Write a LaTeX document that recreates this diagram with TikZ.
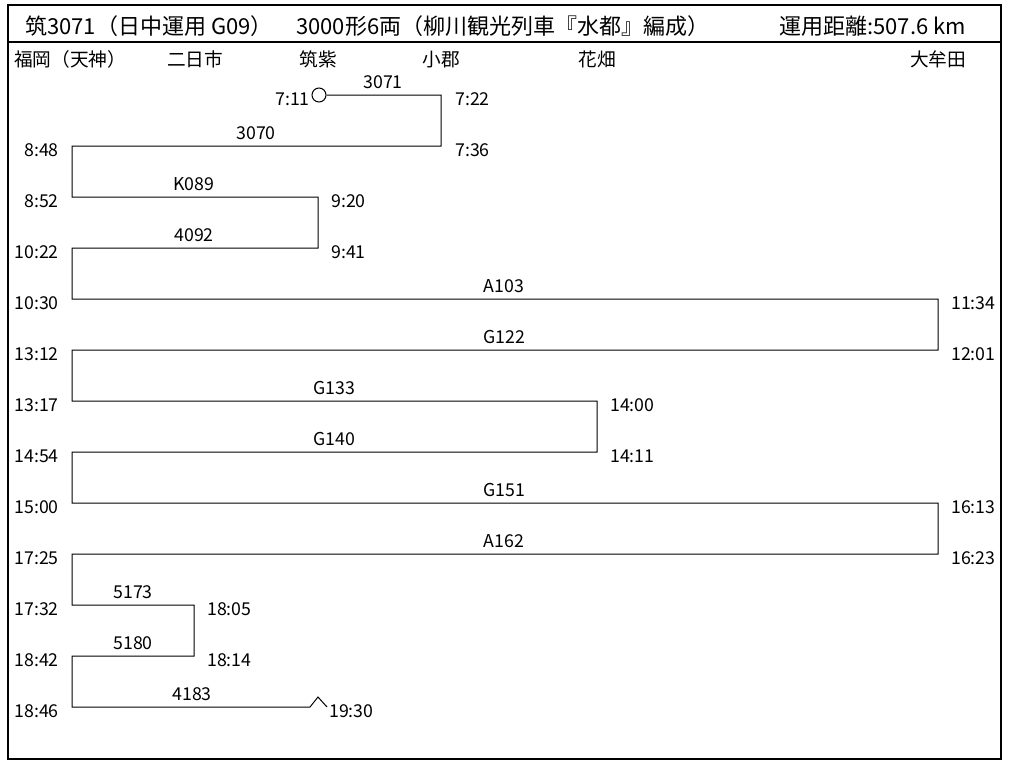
\documentclass[tikz,border=0pt]{standalone}
\usepackage{fontspec}
\setmainfont{Noto Sans CJK JP}
\begin{document}
\begin{tikzpicture}[x=0.75pt,y=-0.75pt,
  route/.style={line width=0.75pt},
  frame/.style={line width=1.1pt},
  hdr/.style={font=\fontsize{16.5}{19}\selectfont, anchor=base west, inner sep=0},
  stn/.style={font=\fontsize{14}{16}\selectfont, anchor=base, inner sep=0},
  tl/.style={font=\fontsize{13.3}{15}\selectfont, anchor=base east, inner sep=0},
  tr/.style={font=\fontsize{13.3}{15}\selectfont, anchor=base west, inner sep=0},
  seg/.style={font=\fontsize{13.3}{15}\selectfont, anchor=base, inner sep=0}]
\useasboundingbox (0,0) rectangle (1011,771);
% frame
\draw[frame] (8,5) rectangle (1001,759);
\draw[line width=0.8pt] (8,42) -- (1001,42);
% header
\node[hdr] (h1) at (25,34) {筑3071（日中運用 G09）};
\node[hdr] (h2) at (296,34) {3000形6両（柳川観光列車『水都』編成）};
\node[hdr] (h3) at (779,34) {運用距離:507.6 km};
% stations
\node[stn] (s1) at (70,66) {福岡（天神）};
\node[stn] (s2) at (195,66) {二日市};
\node[stn] (s3) at (318,66) {筑紫};
\node[stn] (s4) at (441,66) {小郡};
\node[stn] (s5) at (597,66) {花畑};
\node[stn] (s6) at (938,66) {大牟田};
% route corners
\node[draw, circle, line width=0.75pt, minimum size=10.5pt, inner sep=0] (start) at (319,95) {};
\coordinate (c1) at (441,95);
\coordinate (c2) at (441,146);
\coordinate (c3) at (72,146);
\coordinate (c4) at (72,197);
\coordinate (c5) at (318,197);
\coordinate (c6) at (318,248);
\coordinate (c7) at (72,248);
\coordinate (c8) at (72,299);
\coordinate (c9) at (938,299);
\coordinate (c10) at (938,350);
\coordinate (c11) at (72,350);
\coordinate (c12) at (72,401);
\coordinate (c13) at (597,401);
\coordinate (c14) at (597,452);
\coordinate (c15) at (72,452);
\coordinate (c16) at (72,503);
\coordinate (c17) at (938,503);
\coordinate (c18) at (938,554);
\coordinate (c19) at (72,554);
\coordinate (c20) at (72,605);
\coordinate (c21) at (194,605);
\coordinate (c22) at (194,656);
\coordinate (c23) at (72,656);
\coordinate (c24) at (72,707);
\coordinate (c25) at (310,707);
\coordinate (peak) at (318,697);
\coordinate (c26) at (327,707);
\draw[route] (start.east) -- (c1) -- (c2) -- (c3) -- (c4) -- (c5) -- (c6) -- (c7) -- (c8)
  -- (c9) -- (c10) -- (c11) -- (c12) -- (c13) -- (c14) -- (c15) -- (c16) -- (c17)
  -- (c18) -- (c19) -- (c20) -- (c21) -- (c22) -- (c23) -- (c24) -- (c25) -- (peak) -- (c26);
% segment labels
\node[seg] (n1) at (383,88) {3071};
\node[seg] (n2) at (256,139) {3070};
\node[seg] (n3) at (194,190) {K089};
\node[seg] (n4) at (194,241) {4092};
\node[seg] (n5) at (504,292) {A103};
\node[seg] (n6) at (504,343) {G122};
\node[seg] (n7) at (334,394) {G133};
\node[seg] (n8) at (334,445) {G140};
\node[seg] (n9) at (504,496) {G151};
\node[seg] (n10) at (504,547) {A162};
\node[seg] (n11) at (133,598) {5173};
\node[seg] (n12) at (133,649) {5180};
\node[seg] (n13) at (192,700) {4183};
% time labels
\node[tl] (t1) at (310,105) {7:11};
\node[tr] (t2) at (455,105) {7:22};
\node[tr] (t3) at (455,156) {7:36};
\node[tl] (t4) at (59,156) {8:48};
\node[tl] (t5) at (59,207) {8:52};
\node[tr] (t6) at (331,207) {9:20};
\node[tr] (t7) at (331,258) {9:41};
\node[tl] (t8) at (59,258) {10:22};
\node[tl] (t9) at (59,309) {10:30};
\node[tr] (t10) at (951,309) {11:34};
\node[tr] (t11) at (951,360) {12:01};
\node[tl] (t12) at (59,360) {13:12};
\node[tl] (t13) at (59,411) {13:17};
\node[tr] (t14) at (610,411) {14:00};
\node[tr] (t15) at (610,462) {14:11};
\node[tl] (t16) at (59,462) {14:54};
\node[tl] (t17) at (59,513) {15:00};
\node[tr] (t18) at (951,513) {16:13};
\node[tr] (t19) at (951,564) {16:23};
\node[tl] (t20) at (59,564) {17:25};
\node[tl] (t21) at (59,615) {17:32};
\node[tr] (t22) at (207,615) {18:05};
\node[tr] (t23) at (207,666) {18:14};
\node[tl] (t24) at (59,666) {18:42};
\node[tl] (t25) at (59,717) {18:46};
\node[tr] (t26) at (329,717) {19:30};
\end{tikzpicture}
\end{document}
